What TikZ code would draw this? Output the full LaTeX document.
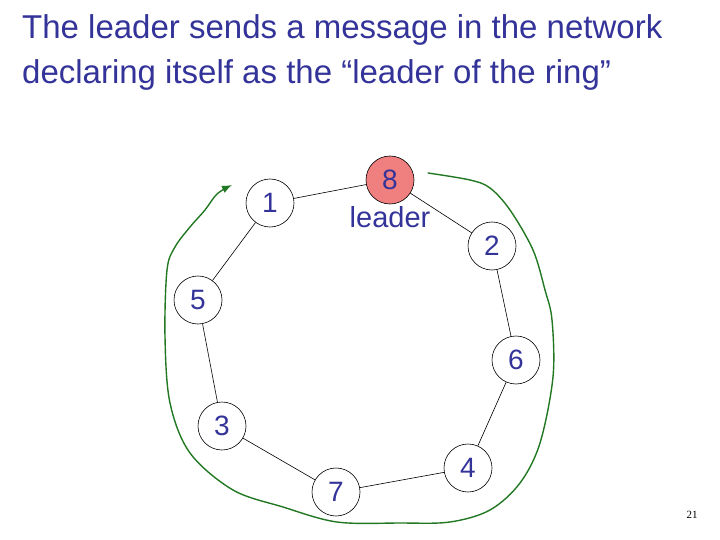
\documentclass[tikz,border=0pt]{standalone}
\usepackage{fontspec}
\newfontfamily\slidefont{Liberation Sans}
\newfontfamily\numfont{Liberation Serif}
\usepackage{tikz}
\usetikzlibrary{positioning, arrows.meta}
\definecolor{slideblue}{RGB}{51,51,153}
\definecolor{ringgreen}{RGB}{34,120,34}
\definecolor{leaderred}{RGB}{240,128,128}

\begin{document}
\begin{tikzpicture}[x=1pt, y=-1pt,
    proc/.style={circle, draw=black, line width=0.6pt, minimum size=48pt, inner sep=0pt,
        font=\slidefont\fontsize{28}{28}\selectfont, text=slideblue},
    link/.style={line width=0.6pt},
    title/.style={anchor=base west, inner sep=0pt, text=slideblue,
        font=\slidefont\fontsize{33}{33}\selectfont},
    ring/.style={ringgreen, line width=1.4pt, line cap=round, line join=round}]
    \useasboundingbox (0,0) rectangle (720,540);

    % Title lines
    \node[title] (line1) at (22,39) {The leader sends a message in the network};
    \node[title] (line2) at (22,84) {declaring itself as the “leader of the ring”};

    % Processes on the ring
    \foreach \n/\x/\y in {1/270/203, 2/492/246, 5/198/300, 6/516/360,
                          3/222/426, 7/336/492, 4/468/468} {
        \node[proc] (n\n) at (\x,\y) {\n};
    }
    \node[proc, fill=leaderred] (n8) at (390,180) {8};
    \node[below=2pt of n8, inner sep=0pt, text=slideblue,
        font=\slidefont\fontsize{29}{29}\selectfont] (leader) {leader};

    % Ring links
    \foreach \a/\b in {8/2, 2/6, 6/4, 4/7, 7/3, 3/5, 5/1, 1/8} {
        \draw[link] (n\a) -- (n\b);
    }

    % Message going round the ring
    \draw[ring, -{Latex[length=10pt,width=8pt]}] plot[smooth, tension=0.55] coordinates {
        (428,173) (470,180) (490,188) (510,210) (533,250) (545,290) (552,320)
        (553,377) (540,443) (520,483) (490,510) (450,522) (400,523) (337,522)
        (283,507) (233,490) (190,453) (170,403) (165,337) (167,270) (175,247)
        (190,227) (205,210) (217,194) (232,185)};

    % Slide number
    \node[font=\numfont\fontsize{11}{11}\selectfont] (pagenum) at (692,515) {21};
\end{tikzpicture}
\end{document}
